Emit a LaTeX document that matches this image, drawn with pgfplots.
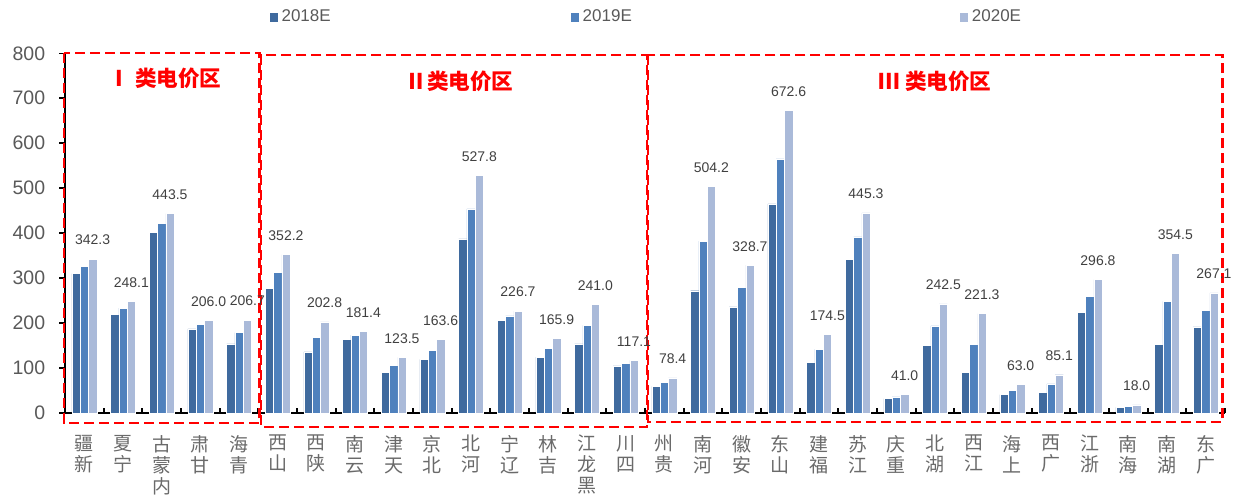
\documentclass[border=0pt]{standalone}
\usepackage{pgfplots}
\pgfplotsset{compat=1.18}
\usepackage{fontspec}
\setmainfont{Liberation Sans}
\newfontfamily\cjk{Noto Sans CJK SC}
\definecolor{cA}{HTML}{3F6A9E}
\definecolor{cB}{HTML}{4F81BD}
\definecolor{cC}{HTML}{AABAD9}
\definecolor{tg}{HTML}{595959}
\definecolor{tl}{HTML}{6A6A6A}
\definecolor{tv}{HTML}{404040}

\pgfplotstableread{
x y18 y19 y20
0 310 326 342.3
1 220 233 248.1
2 402 422 443.5
3 187 197 206.0
4 154 179 206.7
5 277 313 352.2
6 136 168 202.8
7 164 173 181.4
8 90.5 106 123.5
9 119.5 140 163.6
10 387 454 527.8
11 206 216 226.7
12 124 144 165.9
13 154 195 241.0
14 105 111 117.1
15 59 68 78.4
16 272 382 504.2
17 236 280 328.7
18 465 565 672.6
19 113 142 174.5
20 342 392 445.3
21 32 35.6 41.0
22 150.6 194 242.5
23 90.5 153 221.3
24 41 50.5 63.0
25 46 64.6 85.1
26 224 259 296.8
27 12.6 14.8 18.0
28 152 248 354.5
29 191.5 228 267.1
}\datatable

\begin{document}
\begin{tikzpicture}
\useasboundingbox (0,0) rectangle (617.5pt,249pt);
\begin{axis}[
  at={(32.5pt,42.5pt)}, anchor=south west,
  scale only axis, width=580pt, height=179.85pt,
  xmin=-0.5, xmax=29.5, ymin=0, ymax=800,
  axis lines=left, axis line style={-},
  x axis line style={line width=1pt},
  y axis line style={line width=0.6pt},
  ytick={0,100,...,800},
  xtick={-0.5,0.5,...,29.5},
  xticklabels={{疆\\新},{夏\\宁},{古\\蒙\\内},{肃\\甘},{海\\青},{西\\山},{西\\陕},{南\\云},{津\\天},{京\\北},{北\\河},{宁\\辽},{林\\吉},{江\\龙\\黑},{川\\四},{州\\贵},{南\\河},{徽\\安},{东\\山},{建\\福},{苏\\江},{庆\\重},{北\\湖},{西\\江},{海\\上},{西\\广},{江\\浙},{南\\海},{南\\湖},{东\\广},{}},
  tick align=inside,
  major tick length=3pt,
  xtick style={draw=none},
  ytick style={draw=black, line width=0.8pt, xshift=-3pt},
  xticklabel style={font=\cjk\fontsize{9.5}{10.5}\selectfont, align=center, text=tl, xshift=9.67pt, anchor=north, yshift=-4.5pt},
  yticklabel style={font=\fontsize{9.75}{11}\selectfont, text=tg, xshift=-6.4pt},
  /pgf/number format/assume math mode=true,
  ybar=0pt, bar width=4.15pt,
  clip=false,
  legend columns=3,
  legend style={at={(0.502,1)}, anchor=center, yshift=18pt, draw=none, fill=none,
    font=\fontsize{8.5}{10}\selectfont, text=tg,
    /tikz/column 2/.style={column sep=118pt},
    /tikz/column 4/.style={column sep=162pt}},
]
\addplot[fill=cA, draw=white, line width=0.2pt, legend image code/.code={\fill[cA] (0pt,-1.9pt) rectangle (3.8pt,1.9pt);}] table[x=x,y=y18]{\datatable};
\addlegendentry{2018E}
\addplot[fill=cB, draw=white, line width=0.2pt, legend image code/.code={\fill[cB] (0pt,-1.9pt) rectangle (3.8pt,1.9pt);}] table[x=x,y=y19]{\datatable};
\addlegendentry{2019E}
\addplot[fill=cC, draw=white, line width=0.2pt, legend image code/.code={\fill[cC] (0pt,-1.9pt) rectangle (3.8pt,1.9pt);},
  nodes near coords, point meta=explicit,
  nodes near coords style={font=\fontsize{7}{8}\selectfont, text=tv, anchor=center, yshift=9.5pt,
    /pgf/number format/.cd, fixed, fixed zerofill, precision=1}] table[x=x,y=y20,meta=y20]{\datatable};
\addlegendentry{2020E}
\pgfplotsinvokeforeach{-0.5,0.5,...,29.5}{
  \draw[black, line width=0.9pt] (axis cs:#1,0) -- ++(0pt,2.6pt);
}
\draw[red, line width=1.2pt, dash pattern=on 5pt off 2.5pt] (axis cs:-0.526,800.5) rectangle (axis cs:4.53,-22.2);
\draw[red, line width=1.2pt, dash pattern=on 5pt off 2.5pt] (axis cs:4.57,796) rectangle (axis cs:14.55,-31);
\draw[red, line width=1.2pt, dash pattern=on 5pt off 2.5pt] (axis cs:14.58,796) rectangle (axis cs:29.43,-20);
\node[text=red, font=\cjk\bfseries\fontsize{10.8}{12}\selectfont] at (axis cs:2.086,745) {Ⅰ 类电价区};
\node[text=red, font=\cjk\bfseries\fontsize{10.8}{12}\selectfont] at (axis cs:9.7,738) {Ⅱ类电价区};
\node[text=red, font=\cjk\bfseries\fontsize{10.8}{12}\selectfont] at (axis cs:22.0,738) {Ⅲ 类电价区};
\end{axis}
\end{tikzpicture}
\end{document}
